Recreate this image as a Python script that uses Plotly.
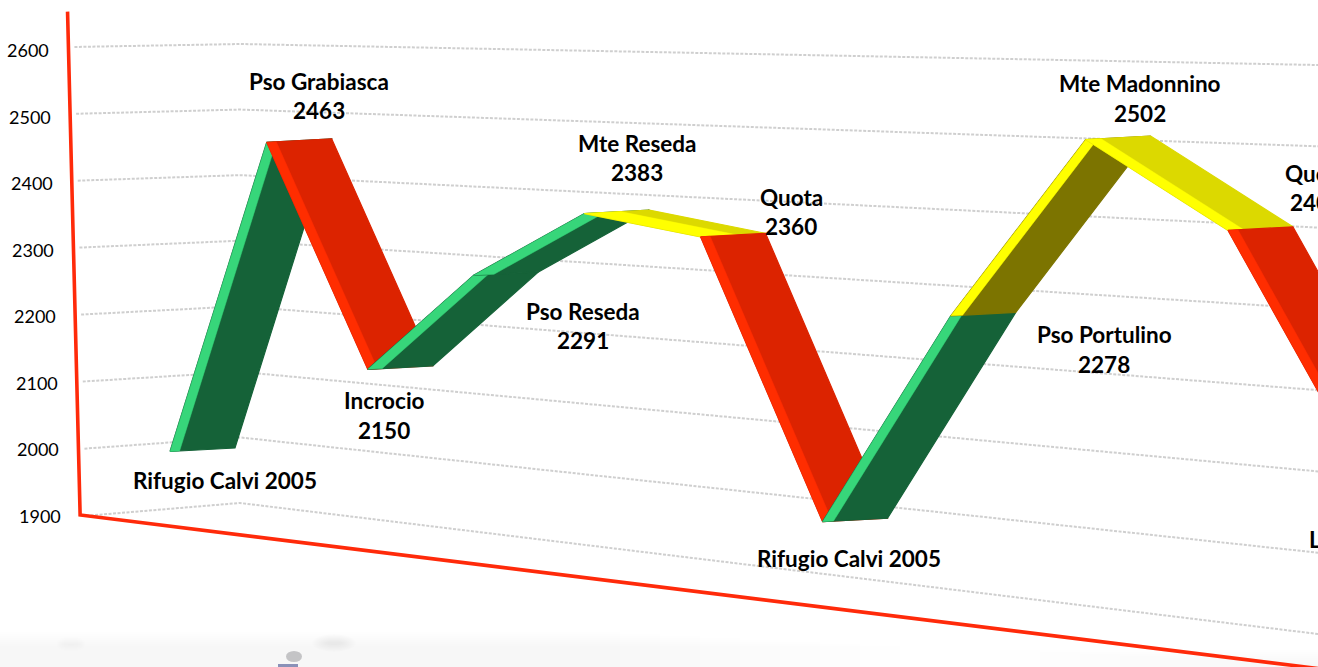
import plotly.graph_objects as go

# ---------- data ----------
STATIONS = ["Rifugio Calvi", "Pso Grabiasca", "Incrocio", "Pso Reseda", "Mte Reseda", "Quota",
            "Rifugio Calvi", "Pso Portulino", "Mte Madonnino", "Quota", "L"]
ELEVATIONS = [2005, 2463, 2150, 2291, 2383, 2360, 2005, 2278, 2502, 2400, 2100]
SEGMENT_GRADE = ["easy", "hard", "easy", "easy", "mid", "hard", "easy", "mid_under", "mid", "hard"]
TICKS = [1900, 2000, 2100, 2200, 2300, 2400, 2500, 2600]

# ---------- styles ----------
GRADE_FACE = {"easy": "#156238", "hard": "#dc2300", "mid": "#dcd900", "mid_under": "#7c7400"}
GRADE_EDGE = {"easy": "#37d67a", "hard": "#ff2d00", "mid": "#ffff00", "mid_under": "#ffff00"}
AXIS_RED = "#ff2a0a"
GRID = "#cfcfcf"
FONT = "Lato"

# ---------- perspective scale of the 3-D chart ----------
VX, A, B = -4193.0, 2.2920e-4, 0.0497e-4     # category index -> screen x
AXIS_I, CORNER_I, END_I = -0.97, 0.728, 11.0
RIBBON_DX, RIBBON_DY, RIBBON_LIFT = 65.0, -3.5, -3.0
BAND = 9.0


def x_of(i):
    return VX + 1.0 / (A - B * i)


def front_y(x, e):
    f = (e - 1900) / 700.0
    lo, hi = 515 + 0.124 * (x - 80), 47 + 0.0145 * (x - 75)
    return lo + (hi - lo) * f


def back_y(x, e):
    f = (e - 1900) / 700.0
    lo, hi = 503 + 0.1215 * (x - 240), 44 + 0.0195 * (x - 240)
    return lo + (hi - lo) * f


def lean(e):
    return -(e - 1900) * 0.0167


fig = go.Figure()


def poly(xs, ys, color, width=1.0):
    fig.add_trace(go.Scatter(x=xs, y=ys, mode="lines", fill="toself", fillcolor=color,
                             line=dict(color=color, width=width), hoverinfo="skip", showlegend=False))


# grid: side wall then back wall
for e in TICKS:
    x0 = x_of(AXIS_I) + lean(e) + 6
    xc = x_of(CORNER_I)
    xe = x_of(END_I)
    fig.add_trace(go.Scatter(x=[x0, xc, xe], y=[front_y(x0, e), back_y(xc, e), back_y(xe, e)],
                             mode="lines", line=dict(color=GRID, width=2.0, dash="3px,1.5px"),
                             hoverinfo="skip", showlegend=False))

# ribbon, one segment per leg of the route
for k, grade in enumerate(SEGMENT_GRADE):
    x1, x2 = x_of(k), x_of(k + 1)
    y1 = front_y(x1, ELEVATIONS[k]) + RIBBON_LIFT
    y2 = front_y(x2, ELEVATIONS[k + 1]) + RIBBON_LIFT
    poly([x1, x2, x2 + RIBBON_DX, x1 + RIBBON_DX, x1],
         [y1, y2, y2 + RIBBON_DY, y1 + RIBBON_DY, y1], GRADE_FACE[grade], 1.2)
    # lighter band along the near edge, measured across the edge
    dx, dy = x2 - x1, y2 - y1
    length = (dx * dx + dy * dy) ** 0.5
    across = abs(dy - dx * (RIBBON_DY / RIBBON_DX)) / length
    t = min(BAND / across, RIBBON_DX * 0.6)
    bx, by = t, t * RIBBON_DY / RIBBON_DX
    poly([x1, x2, x2 + bx, x1 + bx, x1], [y1, y2, y2 + by, y1 + by, y1], GRADE_EDGE[grade], 0.5)

# red axes
top_e = 2653
ax_x = x_of(AXIS_I)
fig.add_trace(go.Scatter(x=[ax_x + lean(top_e), ax_x, x_of(END_I)],
                         y=[front_y(ax_x, top_e), front_y(ax_x, 1900), front_y(x_of(END_I), 1900)],
                         mode="lines", line=dict(color=AXIS_RED, width=3.6), hoverinfo="skip", showlegend=False))

# faint snowy photo at the foot of the page: soft steps instead of a hard edge
shapes = []
for step in range(8):
    shapes.append(dict(type="rect", xref="x", yref="y", x0=0, x1=620 + step * 40, y0=632 + step * 2, y1=667,
                       fillcolor="rgba(0,0,0,0.004)", line_width=0, layer="below"))
    shapes.append(dict(type="rect", xref="x", yref="y", x0=1000 + step * 40, x1=1318, y0=650 + step * 2, y1=667,
                       fillcolor="rgba(0,0,0,0.002)", line_width=0, layer="below"))
    shapes.append(dict(type="circle", xref="x", yref="y", x0=312 + step * 2, x1=356 - step * 2,
                       y0=634 + step, y1=652 - step, fillcolor="rgba(0,0,0,0.006)", line_width=0, layer="below"))
    shapes.append(dict(type="circle", xref="x", yref="y", x0=56 + step, x1=86 - step,
                       y0=636 + step, y1=652 - step, fillcolor="rgba(0,0,0,0.005)", line_width=0, layer="below"))
shapes += [
    dict(type="circle", xref="x", yref="y", x0=286, x1=302, y0=651, y1=662, fillcolor="rgba(120,120,125,0.4)", line_width=0, layer="below"),
    dict(type="rect", xref="x", yref="y", x0=278, x1=298, y0=664, y1=667, fillcolor="rgba(80,90,150,0.65)", line_width=0, layer="below"),
]

annotations = []


def label(x, y, text, size=22.5, bold=True, xanchor="center"):
    annotations.append(dict(x=x, y=y, xref="x", yref="y", text=f"<b>{text}</b>" if bold else text,
                            showarrow=False, xanchor=xanchor, yanchor="middle",
                            font=dict(family=FONT, size=size, color="#000000"), borderpad=0))


# label positions: (name line x, y), (value line y)
LABEL_POS = {0: (225, 480.5, None), 1: (319, 81.5, 110.5), 2: (384, 400.5, 430.5), 3: (583, 311.5, 340.5),
             4: (637, 143.5, 172.5), 5: (791, 197.5, 226.5), 6: (849, 558.5, None), 7: (1104, 334.5, 364.5),
             8: (1140, 83.5, 113.5), 9: (1316, 173.5, 202.5)}
for k, (lx, ly, vy) in LABEL_POS.items():
    if vy is None:
        label(lx, ly, f"{STATIONS[k]} {ELEVATIONS[k]}")
    else:
        label(lx, ly, STATIONS[k])
        label(lx, vy, str(ELEVATIONS[k]))
label(1308, 539.5, STATIONS[10], xanchor="left")

for e in TICKS:
    label(x_of(AXIS_I) + lean(e) - 18, front_y(x_of(AXIS_I), e) + 1 + (e - 1900) / 700 * 2, str(e),
          size=18, bold=False, xanchor="right")

fig.update_layout(
    width=1318, height=667, margin=dict(l=0, r=0, t=0, b=0, pad=0),
    paper_bgcolor="#ffffff", plot_bgcolor="#ffffff", showlegend=False,
    xaxis=dict(range=[0, 1318], visible=False, fixedrange=True),
    yaxis=dict(range=[667, 0], visible=False, fixedrange=True),
    shapes=shapes, annotations=annotations,
)
fig.write_html("out.html", post_script="document.body.style.margin='0';document.body.style.overflow='hidden';",
               config={"displayModeBar": False})
